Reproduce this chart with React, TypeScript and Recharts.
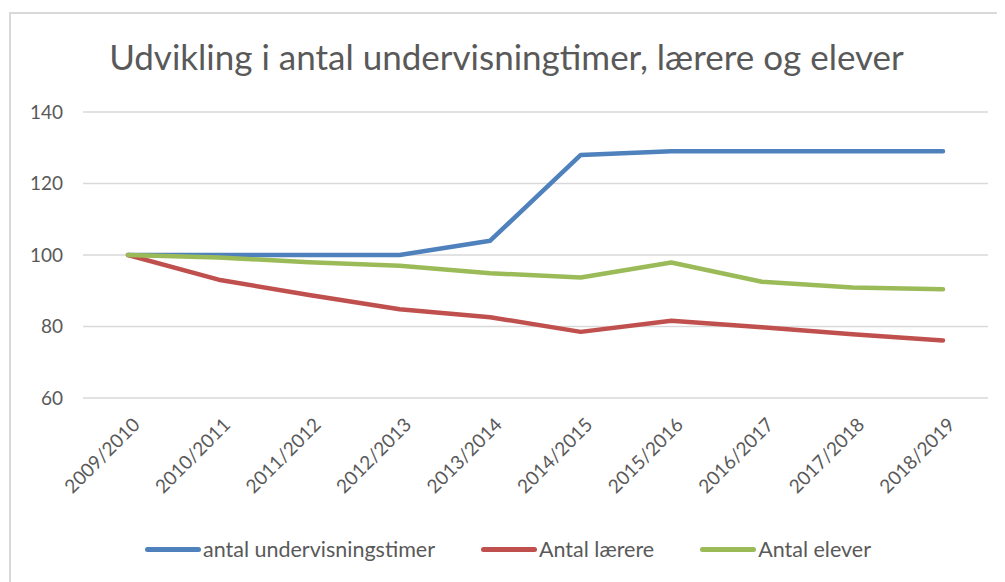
import { LineChart, Line, XAxis, YAxis, CartesianGrid, Legend } from "recharts";

const categories = [
  "2009/2010",
  "2010/2011",
  "2011/2012",
  "2012/2013",
  "2013/2014",
  "2014/2015",
  "2015/2016",
  "2016/2017",
  "2017/2018",
  "2018/2019",
];
const timer = [100, 100, 100, 100, 104, 128, 129, 129, 129, 129];
const laerere = [100, 93.1, 88.8, 84.8, 82.6, 78.5, 81.6, 79.8, 77.8, 76.1];
const elever = [100, 99.3, 98, 97, 94.9, 93.7, 97.9, 92.5, 90.9, 90.4];
const yTicks = [60, 80, 100, 120, 140];

const data = categories.map((c, i) => ({
  name: c,
  timer: timer[i],
  laerere: laerere[i],
  elever: elever[i],
}));

const FONT = "Lato, 'Open Sans', sans-serif";
const TEXT = "#595959";

const XTick = (props: any) => {
  const { x, y, payload } = props;
  const ax = x + 13;
  const ay = y + 20;
  return (
    <text
      x={ax}
      y={ay}
      transform={`rotate(-45, ${ax}, ${ay})`}
      textAnchor="end"
      fill={TEXT}
      fontSize={19}
      fontFamily={FONT}
    >
      {payload.value}
    </text>
  );
};

const series = [
  { key: "timer", label: "antal undervisningstimer", color: "#4F81BD" },
  { key: "laerere", label: "Antal lærere", color: "#C0504D" },
  { key: "elever", label: "Antal elever", color: "#9BBB59" },
];

const LegendContent = () => (
  <div
    style={{
      display: "flex",
      justifyContent: "center",
      gap: 46,
      fontFamily: FONT,
      fontSize: 21.5,
      color: TEXT,
      paddingLeft: 20,
    }}
  >
    {series.map((s) => (
      <div key={s.key} style={{ display: "flex", alignItems: "center" }}>
        <div
          style={{
            width: 56,
            height: 5,
            borderRadius: 3,
            background: s.color,
            marginRight: 2,
          }}
        />
        <span>{s.label}</span>
      </div>
    ))}
  </div>
);

export default function App() {
  return (
    <div style={{ position: "relative", width: 997, height: 574 }}>
      <div
        style={{
          position: "absolute",
          left: 1,
          top: 4,
          width: 996,
          height: 570,
          borderTop: "2px solid #D9D9D9",
          borderLeft: "2px solid #D9D9D9",
        }}
      />
      <div
        style={{
          position: "absolute",
          left: 0,
          top: 27,
          width: 997,
          textAlign: "center",
          fontFamily: FONT,
          fontSize: 35,
          color: TEXT,
        }}
      >
        Udvikling i antal undervisningtimer, lærere og elever
      </div>
      <div style={{ position: "absolute", left: 0, top: 0 }}>
        <LineChart
          width={990}
          height={570}
          data={data}
          margin={{ top: 104, right: 10, bottom: 0, left: 0 }}
        >
          <CartesianGrid vertical={false} stroke="#D9D9D9" strokeWidth={1.5} />
          <XAxis
            dataKey="name"
            axisLine={false}
            tickLine={false}
            tick={<XTick />}
            interval={0}
            height={154}
            padding={{ left: 45, right: 45 }}
          />
          <YAxis
            domain={[60, 140]}
            ticks={yTicks}
            axisLine={false}
            tickLine={false}
            width={75}
            tick={{ fill: TEXT, fontSize: 19, fontFamily: FONT, dx: -12 }}
          />
          <Legend
            verticalAlign="bottom"
            content={<LegendContent />}
            wrapperStyle={{ bottom: 16 }}
          />
          {series.map((s) => (
            <Line
              key={s.key}
              type="linear"
              dataKey={s.key}
              stroke={s.color}
              strokeWidth={4.5}
              strokeLinecap="round"
              strokeLinejoin="round"
              dot={false}
              isAnimationActive={false}
            />
          ))}
        </LineChart>
      </div>
    </div>
  );
}
